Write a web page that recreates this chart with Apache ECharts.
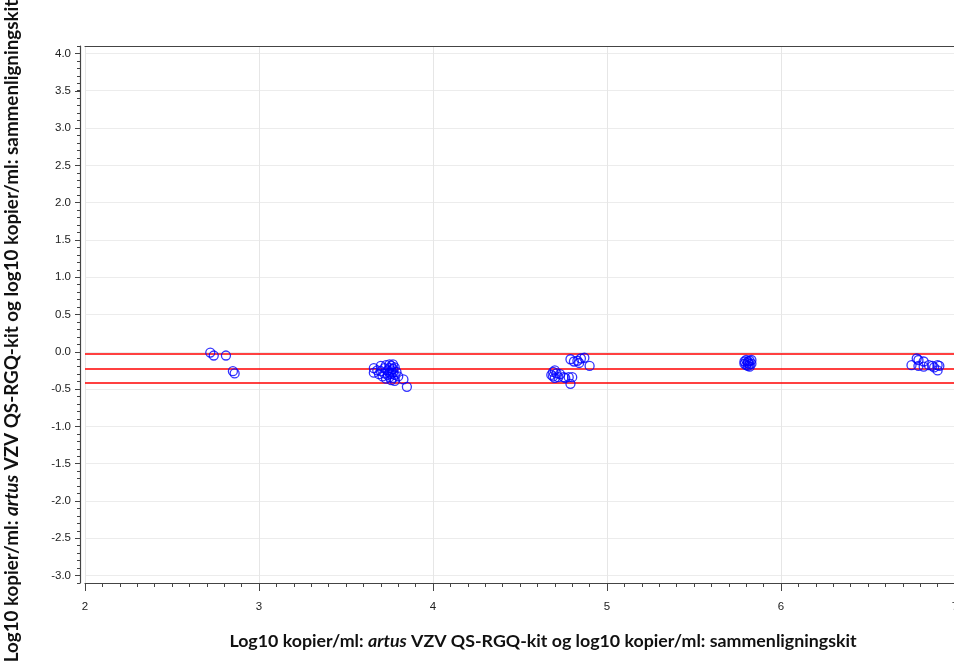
<!DOCTYPE html>
<html>
<head>
<meta charset="utf-8">
<script src="https://cdn.jsdelivr.net/npm/echarts@6/dist/echarts.min.js"></script>
<style>
html,body{margin:0;padding:0;background:#fff;}
#chart{width:954px;height:662px;}
</style>
</head>
<body>
<div id="chart"></div>
<script>
// ---- data ----
const xVals = [
  2.72, 2.74, 2.81, 2.85, 2.86,
  3.66, 3.66, 3.68, 3.69, 3.70, 3.70, 3.71, 3.72, 3.72, 3.73, 3.73, 3.74, 3.74, 3.75, 3.75, 3.75, 3.75,
  3.76, 3.76, 3.76, 3.76, 3.77, 3.77, 3.77, 3.77, 3.78, 3.78, 3.79, 3.80, 3.78, 3.83, 3.85,
  4.79, 4.83, 4.85, 4.87, 4.84, 4.90, 4.81,
  4.69, 4.68, 4.71, 4.72, 4.70, 4.75, 4.76, 4.78, 4.80, 4.79, 4.70, 4.73, 4.69,
  5.79, 5.80, 5.81, 5.82, 5.83, 5.80, 5.81, 5.82, 5.83, 5.79, 5.81, 5.82,
  6.75, 6.78, 6.79, 6.82, 6.79, 6.82, 6.85, 6.87, 6.90, 6.91, 6.90, 6.88
];
const yVals = [
  -0.01, -0.05, -0.05, -0.26, -0.29,
  -0.22, -0.28, -0.25, -0.30, -0.19, -0.26, -0.33, -0.22, -0.29, -0.18, -0.36, -0.25, -0.31, -0.17, -0.22, -0.28, -0.34,
  -0.19, -0.25, -0.30, -0.38, -0.17, -0.23, -0.28, -0.35, -0.21, -0.31, -0.27, -0.33, -0.39, -0.37, -0.47,
  -0.10, -0.12, -0.09, -0.08, -0.15, -0.19, -0.13,
  -0.27, -0.31, -0.29, -0.34, -0.35, -0.34, -0.35, -0.34, -0.34, -0.43, -0.25, -0.30, -0.33,
  -0.13, -0.11, -0.15, -0.12, -0.11, -0.18, -0.19, -0.17, -0.16, -0.16, -0.13, -0.20,
  -0.18, -0.09, -0.11, -0.13, -0.19, -0.20, -0.18, -0.19, -0.18, -0.19, -0.25, -0.21
];
const refLines = [-0.03, -0.228, -0.415];
const xMin = 2, xMax = 7, xStep = 1;
const yMin = -3.0, yMax = 4.0, yStep = 0.5;
const yFrameMin = -3.1, yFrameMax = 4.1, yMinorStep = 0.1;
const axisTitle = '{b|Log10 kopier/ml: }{i|artus}{b| VZV QS-RGQ-kit og log10 kopier/ml: sammenligningskit}';

// ---- layout ----
const gLeft = 85, gWidth = 870, gTop = 46, gBottom = 79;
const H = 662;
const unit = (H - gTop - gBottom) / (yFrameMax - yFrameMin);
const pad = (yMin - yFrameMin) * unit;

const labelFont = 'Liberation Sans';
const titleFont = 'Lato';
function titleRich(size) {
  return {
    b: {fontFamily: titleFont, fontWeight: 'bold', fontSize: size, fill: '#111'},
    i: {fontFamily: titleFont, fontWeight: 'bold', fontStyle: 'italic', fontSize: size, fill: '#111'}
  };
}

const chart = echarts.init(document.getElementById('chart'), null, {renderer: 'canvas'});
const pts = xVals.map((x, i) => [x, yVals[i]]);

chart.setOption({
  animation: false,
  backgroundColor: '#ffffff',
  grid: [
    {left: gLeft, width: gWidth, top: gTop, bottom: gBottom, containLabel: false, outerBoundsMode: 'none'},
    {left: gLeft, width: gWidth, top: gTop + pad, bottom: gBottom + pad, containLabel: false, outerBoundsMode: 'none'}
  ],
  xAxis: [
    {
      type: 'value', gridIndex: 0, min: xMin, max: xMax, interval: xStep,
      axisLine: {show: true, onZero: false, lineStyle: {color: '#444', width: 1.2}},
      axisTick: {show: true, length: 8, lineStyle: {color: '#444'}},
      minorTick: {show: true, splitNumber: 10, length: 4, lineStyle: {color: '#444'}},
      axisLabel: {color: '#222', fontFamily: labelFont, fontSize: 11.5, margin: 18},
      splitLine: {show: true, lineStyle: {color: '#e6e6e6', width: 1}}
    },
    {
      type: 'value', gridIndex: 0, position: 'top', min: xMin, max: xMax, interval: xStep,
      axisLine: {show: true, onZero: false, lineStyle: {color: '#444', width: 1.2}},
      axisTick: {show: false}, axisLabel: {show: false}, splitLine: {show: false}
    },
    {
      type: 'value', gridIndex: 1, min: xMin, max: xMax, interval: xStep, show: false
    }
  ],
  yAxis: [
    {
      type: 'value', gridIndex: 0, min: yFrameMin, max: yFrameMax, interval: yMinorStep, offset: 5,
      axisLine: {show: true, onZero: false, lineStyle: {color: '#444', width: 1.2}},
      axisTick: {show: true, length: 3, lineStyle: {color: '#444'}},
      axisLabel: {show: false},
      splitLine: {show: false}
    },
    {
      type: 'value', gridIndex: 1, min: yMin, max: yMax, interval: yStep, offset: 5,
      axisLine: {show: false, onZero: false},
      axisTick: {show: true, length: 5, lineStyle: {color: '#444'}},
      axisLabel: {color: '#222', fontFamily: labelFont, fontSize: 11.5, margin: 9,
                  formatter: v => v.toFixed(1)},
      splitLine: {show: true, lineStyle: {color: '#ececec', width: 1}}
    }
  ],
  series: [{
    type: 'scatter',
    xAxisIndex: 0, yAxisIndex: 0,
    data: pts,
    symbol: 'circle',
    symbolSize: 9,
    itemStyle: {color: 'rgba(0,0,0,0)', borderColor: '#0000ff', borderWidth: 1.3},
    emphasis: {disabled: true},
    z: 3,
    markLine: {
      silent: true,
      symbol: ['none', 'none'],
      label: {show: false},
      lineStyle: {color: '#ff0000', width: 1.5, type: 'solid'},
      data: refLines.map(v => ({yAxis: v})),
      z: 2
    }
  }],
  graphic: [
    {
      type: 'text',
      x: 543, y: 641,
      style: {text: axisTitle, rich: titleRich(17.8), align: 'center', verticalAlign: 'middle'}
    },
    {
      type: 'text',
      x: 12, y: 331,
      rotation: Math.PI / 2,
      style: {text: axisTitle, rich: titleRich(18.8), align: 'center', verticalAlign: 'middle'}
    }
  ]
});
</script>
</body>
</html>
